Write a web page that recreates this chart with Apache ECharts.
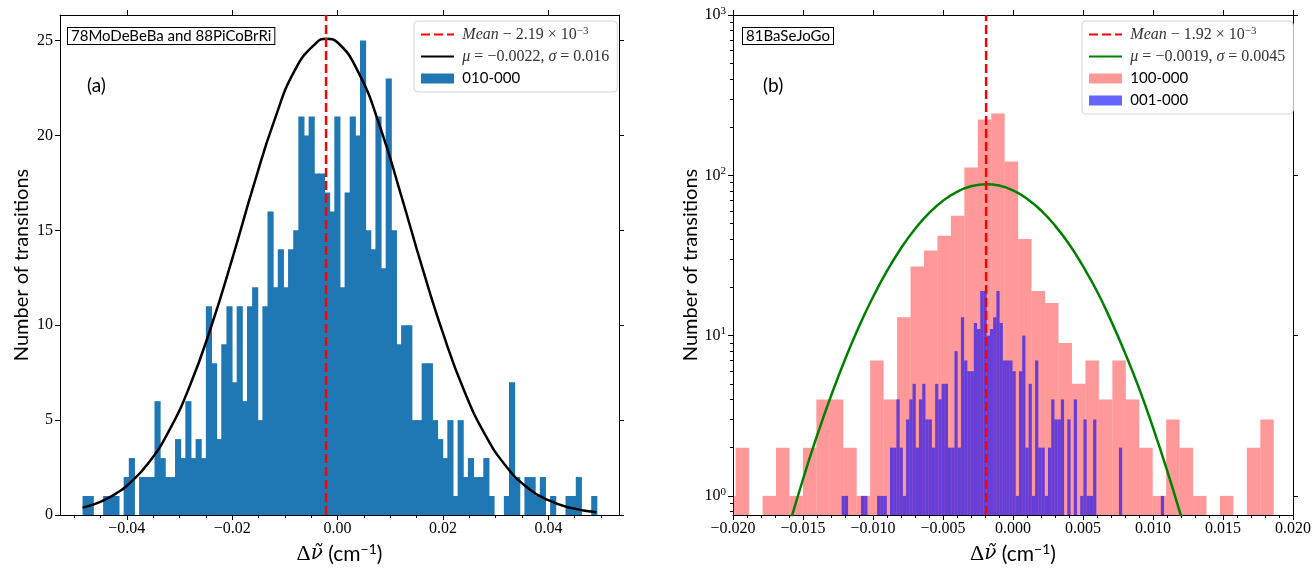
<!DOCTYPE html>
<html>
<head>
<meta charset="utf-8">
<script src="https://cdn.jsdelivr.net/npm/echarts@6/dist/echarts.min.js"></script>
<style>
html, body { margin: 0; padding: 0; background: #fff; }
#chart { width: 1314px; height: 570px; }
</style>
</head>
<body>
<div id="chart"></div>
<script>
// ---- panel (a): 78MoDeBeBa and 88PiCoBrRi, band 010-000 ----
const binStartA = -0.0484;
const binWidthA = 0.000975;
const countsA = [
  1, 1, 0, 0, 1, 1, 1, 0, 2, 3,
  0, 2, 2, 2, 6, 3, 2, 2, 4, 3,
  6, 3, 4, 3, 11, 8, 4, 9, 11, 7,
  11, 6, 11, 12, 5, 11, 16, 12, 14, 12,
  14, 15, 21, 20, 21, 18, 18, 17, 16, 21,
  12, 17, 21, 20, 25, 15, 14, 21, 13, 23,
  15, 9, 10, 10, 5, 5, 8, 8, 5, 4,
  3, 5, 1, 5, 2, 3, 2, 2, 3, 1,
  0, 0, 1, 7, 2, 0, 2, 2, 1, 2,
  0, 1, 0, 0, 1, 1, 2, 0, 0, 1
];
const meanA = -0.00219;
// fitted gaussian (mu = -0.0022, sigma = 0.016)
const fitXA = [-0.0484, -0.046, -0.044, -0.042, -0.040, -0.036, -0.032, -0.028, -0.024, -0.020,
  -0.016, -0.012, -0.008, -0.004, -0.0022, 0.000, 0.004, 0.008, 0.012, 0.016,
  0.020, 0.024, 0.028, 0.032, 0.036, 0.040, 0.044, 0.0491];
const fitYA = [0.39, 0.59, 0.83, 1.14, 1.54, 2.70, 4.43, 6.84, 9.92, 13.5,
  17.3, 20.8, 23.5, 24.9, 25.1, 24.9, 23.3, 20.5, 16.9, 13.1,
  9.58, 6.56, 4.23, 2.56, 1.45, 0.78, 0.39, 0.15];
const xTicksA = [-0.04, -0.02, 0, 0.02, 0.04];
const yTicksA = [0, 5, 10, 15, 20, 25];

// ---- panel (b): 81BaSeJoGo, bands 100-000 and 001-000 (log scale) ----
const binStartPink = -0.020773;
const binWidthPink = 0.000961;
const countsPink = [
  1, 2, 0, 1, 2, 1, 2, 4, 4, 2,
  1, 7, 4, 13, 27, 34, 42, 56, 112, 223,
  243, 122, 40, 19, 16, 9, 5, 7, 4, 7,
  4, 2, 1, 3, 2, 1, 0, 1, 0, 2,
  3
];
const binStartBlue = -0.012241;
const binWidthBlue = 0.0002303;
const countsBlue = [
  1, 1, 0, 0, 0, 0, 1, 1, 0, 0,
  0, 1, 1, 1, 0, 2, 2, 4, 2, 1,
  3, 4, 5, 2, 4, 5, 3, 3, 2, 5,
  4, 5, 5, 2, 2, 8, 2, 13, 7, 6,
  6, 12, 11, 19, 19, 10, 11, 13, 19, 12,
  7, 7, 7, 6, 1, 6, 10, 2, 5, 1,
  7, 2, 2, 1, 2, 4, 3, 3, 4, 0,
  3, 0, 4, 0, 1, 3, 1, 1, 3, 0,
  0, 0, 0, 0, 0, 0, 2, 0, 0, 0,
  0, 0, 0, 0, 0, 0, 0, 0, 0, 1
];
const meanB = -0.00192;
// fitted gaussian (mu = -0.0019, sigma = 0.0045)
const fitXB = [-0.0165, -0.015, -0.014, -0.013, -0.012, -0.011, -0.010, -0.009, -0.008, -0.007,
  -0.006, -0.005, -0.004, -0.003, -0.0019, -0.001, 0.000, 0.001, 0.002, 0.003,
  0.004, 0.005, 0.006, 0.007, 0.008, 0.009, 0.010, 0.011, 0.012, 0.0125];
const fitYB = [0.46, 1.27, 2.37, 4.2, 7.1, 11.4, 17.4, 25.3, 35.1, 46.3,
  58.1, 69.4, 78.9, 85.4, 88, 86.3, 80.5, 71.5, 60.4, 48.6,
  37.3, 27.1, 18.9, 12.4, 7.8, 4.7, 2.67, 1.45, 0.75, 0.53];
const xTicksB = [-0.02, -0.015, -0.01, -0.005, 0, 0.005, 0.01, 0.015, 0.02];
const yTicksB = [1, 10, 100, 1000];

const yMaxA = 26.35;
const yMinB = 0.76;
const yMaxB = 1000;

function toBins(start, width, counts) {
  return counts.map((c, i) => [start + i * width, start + (i + 1) * width, c]);
}

function minorTicks(lo, hi, step, majors) {
  const out = [];
  for (let v = lo; v <= hi + step / 2; v += step) {
    const r = Math.round(v / step) * step;
    if (!majors.some(m => Math.abs(m - r) < step / 10)) out.push(+r.toFixed(6));
  }
  return out;
}

const logMinor = [];
[0.1, 1, 10, 100].forEach(d => {
  for (let k = 2; k <= 9; k++) logMinor.push(+(k * d).toFixed(4));
});

function histItem(yBase, seam) {
  return function (params, api) {
    const c = api.value(2);
    if (!c) return null;
    const p0 = api.coord([api.value(0), c]);
    const p1 = api.coord([api.value(1), yBase]);
    const cs = params.coordSys;
    const shape = echarts.graphic.clipRectByRect(
      { x: p0[0], y: p0[1], width: p1[0] - p0[0] + seam, height: p1[1] - p0[1] },
      { x: cs.x, y: cs.y, width: cs.width, height: cs.height }
    );
    return shape && { type: 'rect', shape: shape, style: api.style() };
  };
}

const serif = 'Liberation Serif';
const sans = 'Lato';
const redDash = { color: '#ff0000', type: [9, 4], width: 2.5 };

function fmtX(digits) {
  return v => (v < 0 ? '\u2212' : '') + Math.abs(v).toFixed(digits);
}

const axisText = { fontFamily: serif, fontSize: 16, color: '#000' };
const axisLine = { show: true, onZero: false, lineStyle: { color: '#000', width: 1 } };
const noLine = { show: false, onZero: false };

const xName = '{d|\u0394}{nu|\u03bd\u0303}{t|\u00a0(cm}{sup|\u22121}{t|)}';
const xNameStyle = {
  rich: {
    d: { fontFamily: serif, fontSize: 22, color: '#000' },
    nu: { fontFamily: 'DejaVu Serif', fontStyle: 'italic', fontSize: 20, color: '#000' },
    t: { fontFamily: sans, fontSize: 21, color: '#000' },
    sup: { fontFamily: sans, fontSize: 14, color: '#000', verticalAlign: 'top', padding: [0, 0, 10, 0] }
  }
};
const yNameStyle = { fontFamily: sans, fontSize: 20, color: '#000' };

const legendText = {
  meanA: '{it|Mean}{rm| \u2212 2.19 \u00d7 10}{sup|\u22123}',
  fitA: '{it|\u03bc}{rm| = \u22120.0022, }{it|\u03c3}{rm| = 0.016}',
  '010-000': '{sf|010-000}',
  meanB: '{it|Mean}{rm| \u2212 1.92 \u00d7 10}{sup|\u22123}',
  fitB: '{it|\u03bc}{rm| = \u22120.0019, }{it|\u03c3}{rm| = 0.0045}',
  '100-000': '{sf|100-000}',
  '001-000': '{sf|001-000}'
};
const legendRich = {
  it: { fontFamily: serif, fontStyle: 'italic', fontSize: 16, color: '#333' },
  rm: { fontFamily: serif, fontSize: 16, color: '#333' },
  sup: { fontFamily: serif, fontSize: 11, color: '#333', verticalAlign: 'top', padding: [0, 0, 8, 0] },
  sf: { fontFamily: sans, fontSize: 15, color: '#000' }
};
const hideDot = { color: 'rgba(0,0,0,0)', borderWidth: 0, opacity: 0 };
function lineEntry(name) {
  return { name: name, itemStyle: hideDot };
}
function legendBase() {
  return {
    orient: 'vertical',
    itemWidth: 33,
    itemHeight: 10,
    itemGap: 5,
    padding: [5, 8, 5, 6],
    backgroundColor: 'rgba(255,255,255,0.85)',
    borderColor: '#d6d6d6',
    borderWidth: 1,
    borderRadius: 4,
    selectedMode: false,
    formatter: name => ' ' + legendText[name],
    textStyle: { lineHeight: 17, rich: legendRich }
  };
}

function valueAxis(grid, pos, min, max, extra) {
  return Object.assign({
    type: 'value', gridIndex: grid, position: pos, min: min, max: max,
    axisLine: axisLine, splitLine: { show: false }, axisLabel: { show: false }
  }, extra);
}
function logAxis(pos, extra) {
  return Object.assign({
    type: 'log', logBase: 10, gridIndex: 1, position: pos, min: yMinB, max: yMaxB,
    axisLine: axisLine, splitLine: { show: false }, axisLabel: { show: false }
  }, extra);
}
function ticks(values, len) {
  return { show: true, length: len, customValues: values, lineStyle: { color: '#000' } };
}

const chart = echarts.init(document.getElementById('chart'), null, { renderer: 'canvas' });

chart.setOption({
  animation: false,
  backgroundColor: '#fff',
  grid: [
    { left: 60, top: 15, width: 559, height: 505 },
    { left: 733, top: 15, width: 563, height: 505 }
  ],
  xAxis: [
    valueAxis(0, 'bottom', -0.05268, 0.0534, {
      axisTick: ticks(xTicksA, 5),
      axisLabel: { customValues: xTicksA, formatter: fmtX(2), margin: 6, ...axisText },
      name: xName, nameLocation: 'middle', nameGap: 27, nameTextStyle: xNameStyle
    }),
    valueAxis(0, 'bottom', -0.05268, 0.0534, {
      axisLine: noLine, axisTick: ticks(minorTicks(-0.05, 0.05, 0.005, xTicksA), 3)
    }),
    valueAxis(0, 'top', -0.05268, 0.0534, { axisTick: ticks(xTicksA, 5) }),
    valueAxis(1, 'bottom', -0.02, 0.02, {
      axisTick: ticks(xTicksB, 5),
      axisLabel: { customValues: xTicksB, formatter: fmtX(3), margin: 6, ...axisText },
      name: xName, nameLocation: 'middle', nameGap: 27, nameTextStyle: xNameStyle
    }),
    valueAxis(1, 'bottom', -0.02, 0.02, {
      axisLine: noLine, axisTick: ticks(minorTicks(-0.02, 0.02, 0.001, xTicksB), 3)
    }),
    valueAxis(1, 'top', -0.02, 0.02, { axisTick: ticks(xTicksB, 5) })
  ],
  yAxis: [
    valueAxis(0, 'left', 0, yMaxA, {
      axisTick: ticks(yTicksA, 5),
      axisLabel: { customValues: yTicksA, margin: 7, ...axisText },
      name: 'Number of transitions', nameLocation: 'middle', nameGap: 28, nameTextStyle: yNameStyle
    }),
    valueAxis(0, 'right', 0, yMaxA, { axisTick: ticks(yTicksA, 5) }),
    logAxis('left', {
      axisTick: ticks(yTicksB, 5),
      axisLabel: {
        customValues: yTicksB, margin: 7,
        formatter: v => '{b|10}{e|' + Math.round(Math.log10(v)) + '}',
        rich: {
          b: { fontFamily: serif, fontSize: 16, color: '#000' },
          e: { fontFamily: serif, fontSize: 11, color: '#000', verticalAlign: 'top', padding: [0, 0, 8, 0] }
        }
      },
      name: 'Number of transitions', nameLocation: 'middle', nameGap: 32, nameTextStyle: yNameStyle
    }),
    logAxis('left', { axisLine: noLine, axisTick: ticks(logMinor, 3) }),
    logAxis('right', { axisTick: ticks(yTicksB, 5) })
  ],
  legend: [
    Object.assign(legendBase(), {
      left: 414, top: 21,
      data: [lineEntry('meanA'), lineEntry('fitA'), { name: '010-000', icon: 'rect' }]
    }),
    Object.assign(legendBase(), {
      left: 1082, top: 21,
      data: [lineEntry('meanB'), lineEntry('fitB'), { name: '100-000', icon: 'rect' }, { name: '001-000', icon: 'rect' }]
    })
  ],
  series: [
    {
      name: '010-000', type: 'custom', xAxisIndex: 0, yAxisIndex: 0,
      renderItem: histItem(0, 1), encode: { x: [0, 1], y: 2 },
      itemStyle: { color: '#1f77b4' },
      data: toBins(binStartA, binWidthA, countsA), z: 2
    },
    {
      name: 'fitA', type: 'line', xAxisIndex: 0, yAxisIndex: 0,
      data: fitXA.map((x, i) => [x, fitYA[i]]), smooth: true, symbol: 'none',
      lineStyle: { color: '#000', width: 2.5 }, itemStyle: { color: '#000' }, z: 3
    },
    {
      name: 'meanA', type: 'line', xAxisIndex: 0, yAxisIndex: 0, symbol: 'none',
      data: [[meanA, 0], [meanA, yMaxA]],
      lineStyle: redDash, itemStyle: { color: '#ff0000' }, z: 4
    },
    {
      name: '100-000', type: 'custom', xAxisIndex: 3, yAxisIndex: 2,
      renderItem: histItem(yMinB, 0), encode: { x: [0, 1], y: 2 },
      itemStyle: { color: 'rgba(255,0,0,0.4)' },
      data: toBins(binStartPink, binWidthPink, countsPink), z: 2
    },
    {
      name: '001-000', type: 'custom', xAxisIndex: 3, yAxisIndex: 2,
      renderItem: histItem(yMinB, 0), encode: { x: [0, 1], y: 2 },
      itemStyle: { color: 'rgba(0,0,255,0.6)' },
      data: toBins(binStartBlue, binWidthBlue, countsBlue), z: 2
    },
    {
      name: 'fitB', type: 'line', xAxisIndex: 3, yAxisIndex: 2,
      data: fitXB.map((x, i) => [x, fitYB[i]]), smooth: true, symbol: 'none', clip: true,
      lineStyle: { color: '#008000', width: 2.5 }, itemStyle: { color: '#008000' }, z: 3
    },
    {
      name: 'meanB', type: 'line', xAxisIndex: 3, yAxisIndex: 2, symbol: 'none',
      data: [[meanB, yMinB], [meanB, yMaxB]],
      lineStyle: redDash, itemStyle: { color: '#ff0000' }, z: 4
    }
  ],
  graphic: [
    {
      type: 'text', left: 67, top: 27, z: 100,
      style: { text: '78MoDeBeBa and 88PiCoBrRi', font: '15px Lato', fill: '#000',
        backgroundColor: '#fff', borderColor: '#000', borderWidth: 1, padding: [1, 3, 0, 3] }
    },
    { type: 'text', left: 87, top: 76, z: 100, style: { text: '(a)', font: '19px Lato', fill: '#000' } },
    {
      type: 'text', left: 742, top: 27, z: 100,
      style: { text: '81BaSeJoGo', font: '15px Lato', fill: '#000',
        backgroundColor: '#fff', borderColor: '#000', borderWidth: 1, padding: [1, 3, 0, 3] }
    },
    { type: 'text', left: 763, top: 76, z: 100, style: { text: '(b)', font: '19px Lato', fill: '#000' } }
  ]
});
</script>
</body>
</html>
